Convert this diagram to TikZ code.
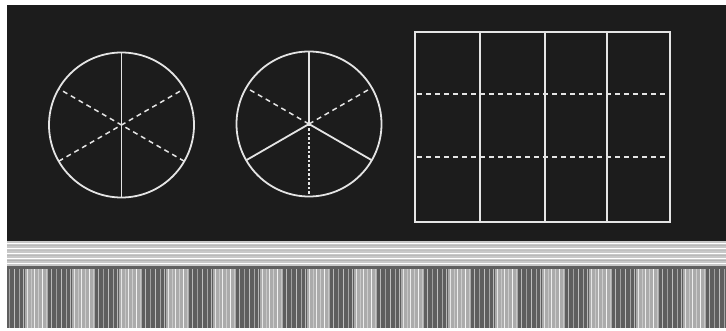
\documentclass[tikz,border=0pt]{standalone}
\usetikzlibrary{calc}
\definecolor{board}{HTML}{1C1C1C}
\definecolor{chalk}{HTML}{E4E4E4}
\definecolor{ledge}{HTML}{C8C8C8}
\definecolor{stripelight}{HTML}{ABABAB}
\definecolor{stripedark}{HTML}{5E5E5E}
\begin{document}
\begin{tikzpicture}[
    x=1pt,y=-1pt,
    solidline/.style={draw=chalk,line width=1.8pt},
    dashline/.style={draw=chalk,line width=1.5pt,dash pattern=on 5pt off 4pt},
    dotline/.style={draw=chalk,line width=1.5pt,dash pattern=on 2.5pt off 2pt},
    fineline/.style={line width=0.6pt}
]
\useasboundingbox (0,0) rectangle (726,331);
\fill[white] (0,0) rectangle (726,331);

% board
\fill[board] (7,5) rectangle (726,241);

% ledge
\fill[ledge] (7,241) rectangle (726,266);
\foreach \y/\c in {243/white!85,245.5/gray!55,248/white!80,250.5/gray!50,253/white!85,
    255.5/gray!55,258/white!75,260.5/gray!60,263/white!80}
  \draw[fineline,\c] (7,\y) -- (726,\y);

% stripes
\begin{scope}
\clip (7,266) rectangle (726,328);
\fill[stripedark] (7,266) rectangle (726,328);
\foreach \k in {0,...,15} {
  \fill[stripelight] ({25+47*\k},266) rectangle +(23,62);
  \foreach \o/\c in {2/gray!20,6/gray!45,9/gray!15,13/gray!40,17/gray!10,21/gray!45}
    \draw[fineline,\c] ({25+47*\k+\o},266) -- +(0,62);
  \foreach \o/\c in {-21/gray!55,-16/gray!75,-11/gray!50,-6/gray!70,-2/gray!55}
    \draw[fineline,\c] ({25+47*\k+\o},266) -- +(0,62);
}
\fill[board!70] (7,266) rectangle (726,269);
\end{scope}

% first circle: sixths
\coordinate (c1) at (121.5,125);
\draw[solidline] (c1) circle[radius=72.5];
\draw[solidline] ($(c1)+(0,-72.5)$) -- ($(c1)+(0,72.5)$);
\draw[dashline] ($(c1)+(150:72.5)$) -- ($(c1)+(330:72.5)$);
\draw[dashline] ($(c1)+(30:72.5)$) -- ($(c1)+(210:72.5)$);

% second circle: thirds and sixths
\coordinate (c2) at (309,124);
\draw[solidline] (c2) circle[radius=72.5];
\draw[solidline] (c2) -- +(-90:72.5);
\draw[solidline] (c2) -- +(150:72.5);
\draw[solidline] (c2) -- +(30:72.5);
\draw[dashline] (c2) -- +(-30:72.5);
\draw[dashline] (c2) -- +(-150:72.5);
\draw[dotline] (c2) -- +(90:72.5);

% rectangle: fourths and thirds
\coordinate (r1) at (415,32);
\coordinate (r2) at (670,222);
\draw[solidline] (r1) rectangle (r2);
\foreach \x in {480,545,607}
  \draw[solidline] (\x,32) -- (\x,222);
\foreach \y in {94,157}
  \draw[dashline] (417,\y) -- (670,\y);
\end{tikzpicture}
\end{document}
